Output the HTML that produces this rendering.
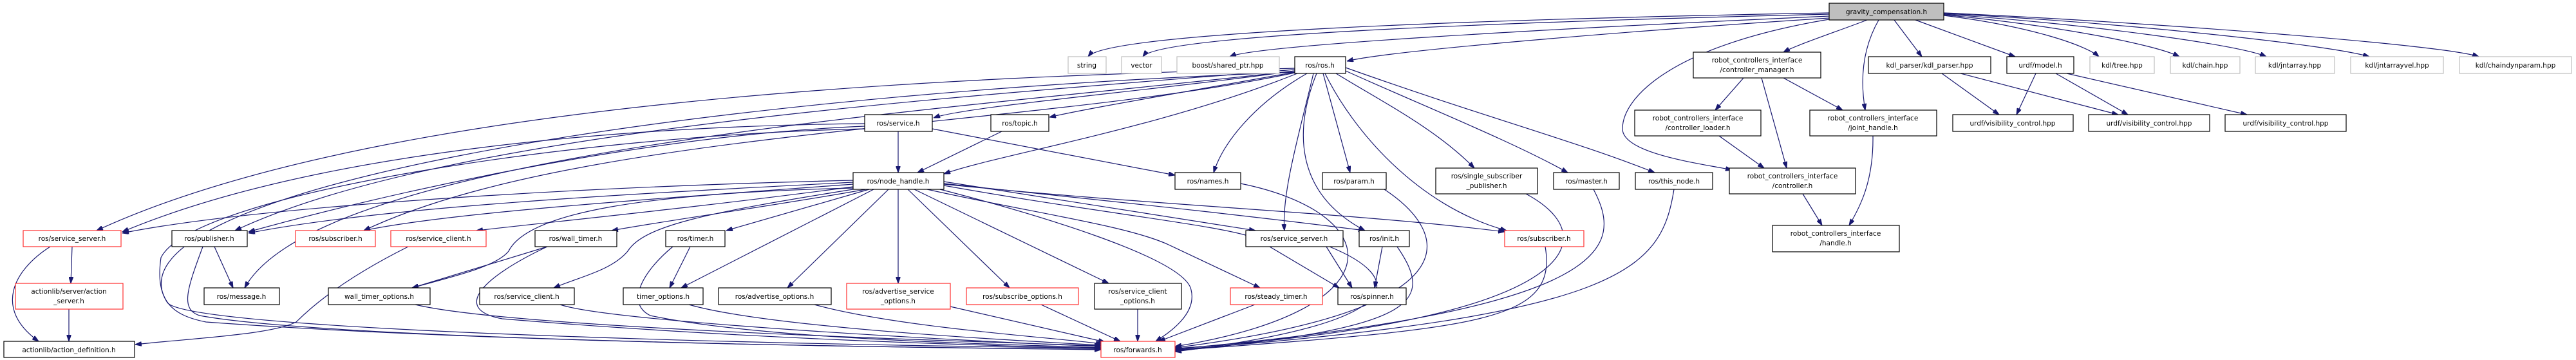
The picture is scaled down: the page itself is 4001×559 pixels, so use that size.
<!DOCTYPE html>
<html><head><meta charset="utf-8"><style>
html,body{margin:0;padding:0;background:#fff}
svg{display:block}
text{font-family:"DejaVu Sans","Liberation Sans",sans-serif;font-size:10.5px;fill:#000;text-anchor:middle}
.e{fill:none;stroke:#191970;stroke-width:1.2;marker-end:url(#a)}
.b{fill:#fff;stroke:#000;stroke-width:1.2}
.g{fill:#fff;stroke:#bfbfbf;stroke-width:1.2}
.r{fill:#fff;stroke:#ff3030;stroke-width:1.2}
</style></head><body>
<svg width="4001" height="559" viewBox="0 0 4001 559" xmlns="http://www.w3.org/2000/svg">
<defs><marker id="a" markerWidth="10" markerHeight="7" refX="10" refY="3.5" orient="auto" markerUnits="userSpaceOnUse"><path d="M0,0 L10,3.5 L0,7 z" fill="#191970" stroke="#191970"/></marker></defs>
<g>
<!-- gravity edges -->
<path class="e" d="M2841,20 C2300,30 1720,50 1690,88"/>
<path class="e" d="M2841,22 C2300,35 1800,55 1775,88"/>
<path class="e" d="M2841,25 C2400,45 1950,70 1910,88"/>
<path class="e" d="M2841,28 C2500,50 2150,80 2092,95"/>
<path class="e" d="M2900,31 C2850,50 2790,70 2770,81"/>
<path class="e" d="M2841,30 C2600,70 2520,150 2520,200 C2520,240 2650,255 2690,264"/>
<path class="e" d="M2918,31 C2890,80 2890,130 2897,171"/>
<path class="e" d="M2942,31 L2985,88"/>
<path class="e" d="M2975,31 L3130,88"/>
<path class="e" d="M3019,24 C3150,40 3240,70 3260,88"/>
<path class="e" d="M3019,23 C3200,40 3350,70 3385,88"/>
<path class="e" d="M3019,22 C3250,38 3480,70 3520,88"/>
<path class="e" d="M3019,21 C3300,35 3620,70 3680,88"/>
<path class="e" d="M3019,20 C3350,35 3800,70 3850,88"/>
<!-- rci -->
<path class="e" d="M2708,121 L2664,171"/>
<path class="e" d="M2736,121 L2775,261"/>
<path class="e" d="M2770,121 L2862,171"/>
<path class="e" d="M2670,211 L2740,261"/>
<path class="e" d="M2909,211 C2910,280 2890,320 2872,350"/>
<path class="e" d="M2800,301 L2830,350"/>
<path class="e" d="M3016,114 L3105,178"/>
<path class="e" d="M3045,114 L3290,178"/>
<path class="e" d="M3162,114 L3132,178"/>
<path class="e" d="M3193,114 L3305,178"/>
<path class="e" d="M3210,114 L3490,178"/>
<!-- ros.h -->
<path class="e" d="M2011,110 C1800,140 1500,165 1450,183"/>
<path class="e" d="M2011,112 C1800,150 1680,170 1630,182"/>
<path class="e" d="M2015,114 C1800,200 1550,240 1466,270"/>
<path class="e" d="M2030,114 C1950,160 1900,220 1885,268"/>
<path class="e" d="M2011,106 C1500,120 600,150 150,358"/>
<path class="e" d="M2011,108 C1500,150 700,200 365,358"/>
<path class="e" d="M2011,110 C1500,170 500,230 380,447"/>
<path class="e" d="M2011,113 C1600,200 900,200 565,358"/>
<path class="e" d="M2040,114 C2020,200 1990,300 1995,358"/>
<path class="e" d="M2045,114 C2010,200 2010,300 2120,358"/>
<path class="e" d="M2058,114 C2100,200 2200,320 2340,358"/>
<path class="e" d="M2055,114 L2097,268"/>
<path class="e" d="M2075,114 C2150,160 2230,200 2290,261"/>
<path class="e" d="M2090,110 C2200,160 2350,220 2435,268"/>
<path class="e" d="M2090,105 C2300,180 2450,220 2570,268"/>
<path class="e" d="M2011,112 C1000,150 150,300 260,470 C300,520 1500,540 1710,540"/>
<!-- service/topic -->
<path class="e" d="M1395,204 L1395,268"/>
<path class="e" d="M1448,200 L1825,272"/>
<path class="e" d="M1343,192 C1000,195 500,230 190,360"/>
<path class="e" d="M1343,196 C1000,210 600,300 386,360"/>
<path class="e" d="M1556,204 L1425,268"/>
<!-- node_handle -->
<path class="e" d="M1325,280 C900,290 400,320 190,362"/>
<path class="e" d="M1325,283 C1000,300 600,320 386,362"/>
<path class="e" d="M1325,286 C1000,310 700,330 565,358"/>
<path class="e" d="M1325,290 C1100,320 900,340 740,358"/>
<path class="e" d="M1345,294 C1200,320 1050,340 950,358"/>
<path class="e" d="M1325,292 C1000,300 820,330 790,390 C770,415 700,430 640,447"/>
<path class="e" d="M1350,294 L1128,358"/>
<path class="e" d="M1357,294 L1058,447"/>
<path class="e" d="M1325,294 C1100,330 1000,350 975,390 C950,420 900,430 860,447"/>
<path class="e" d="M1380,294 L1223,447"/>
<path class="e" d="M1395,294 L1395,440"/>
<path class="e" d="M1410,294 L1568,447"/>
<path class="e" d="M1420,294 L1722,440"/>
<path class="e" d="M1440,294 C1600,330 1750,350 1815,380 L1957,447"/>
<path class="e" d="M1460,294 C1600,330 1840,400 1850,450 C1860,490 1810,520 1795,530"/>
<path class="e" d="M1466,282 L1950,358"/>
<path class="e" d="M1466,285 C1700,310 1900,330 2120,358"/>
<path class="e" d="M1466,286 C1800,320 2100,330 2337,360"/>
<path class="e" d="M1466,288 C1700,330 1900,350 1950,370 L2080,447"/>
<!-- to forwards -->
<path class="e" d="M1927,285 C2150,330 2180,480 1825,538"/>
<path class="e" d="M2150,294 C2250,360 2300,480 1825,540"/>
<path class="e" d="M2370,301 C2500,370 2450,500 1825,541"/>
<path class="e" d="M2475,294 C2520,380 2520,480 1825,542"/>
<path class="e" d="M2600,294 C2580,420 2520,490 1825,543"/>
<path class="e" d="M2400,383 C2420,500 2300,510 1825,544"/>
<path class="e" d="M2147,383 L2135,447"/>
<path class="e" d="M2170,383 C2230,470 2200,510 1825,545"/>
<path class="e" d="M2060,383 L2100,447"/>
<path class="e" d="M2065,383 C2180,430 2200,500 1825,546"/>
<path class="e" d="M1072,383 L1040,447"/>
<path class="e" d="M1045,383 C1000,420 970,470 1010,490 C1200,530 1600,535 1710,540"/>
<path class="e" d="M850,383 L640,447"/>
<path class="e" d="M850,383 C750,430 700,480 780,495 C1200,530 1600,538 1710,541"/>
<path class="e" d="M870,473 C950,500 1500,530 1710,538"/>
<path class="e" d="M645,473 C800,510 1500,530 1710,537"/>
<path class="e" d="M1070,473 C1200,510 1600,530 1710,536"/>
<path class="e" d="M1265,473 C1400,510 1650,525 1712,534"/>
<path class="e" d="M1476,476 L1716,531"/>
<path class="e" d="M1617,473 L1740,530"/>
<path class="e" d="M1767,480 L1767,530"/>
<path class="e" d="M1949,473 L1800,530"/>
<path class="e" d="M333,383 L362,447"/>
<path class="e" d="M315,383 C290,450 280,480 310,490 C500,525 1300,540 1710,542"/>
<path class="e" d="M112,383 L110,440"/>
<path class="e" d="M78,383 C20,420 -10,480 60,530"/>
<path class="e" d="M107,480 L107,530"/>
<path class="e" d="M634,383 C560,420 500,460 460,500 C420,520 300,525 210,535"/>
<path class="e" d="M1343,200 C900,210 300,300 250,400 C240,470 270,490 320,500 C800,535 1500,540 1710,543"/>
</g>
<g>
<rect x="2841" y="5" width="178" height="26" fill="#bfbfbf" stroke="#000" stroke-width="1.2"/><text x="2930" y="22">gravity_compensation.h</text>
<rect class="g" x="1659" y="88" width="59" height="26"/><text x="1688" y="105">string</text>
<rect class="g" x="1742" y="88" width="62" height="26"/><text x="1773" y="105">vector</text>
<rect class="g" x="1828" y="88" width="159" height="26"/><text x="1907" y="105">boost/shared_ptr.hpp</text>
<rect class="b" x="2011" y="88" width="79" height="26"/><text x="2050" y="105">ros/ros.h</text>
<rect class="b" x="2630" y="81" width="198" height="40"/><text x="2729" y="97">robot_controllers_interface</text><text x="2729" y="112">/controller_manager.h</text>
<rect class="b" x="2902" y="88" width="190" height="26"/><text x="2997" y="105">kdl_parser/kdl_parser.hpp</text>
<rect class="b" x="3117" y="88" width="104" height="26"/><text x="3169" y="105">urdf/model.h</text>
<rect class="g" x="3246" y="88" width="100" height="26"/><text x="3296" y="105">kdl/tree.hpp</text>
<rect class="g" x="3371" y="88" width="108" height="26"/><text x="3425" y="105">kdl/chain.hpp</text>
<rect class="g" x="3503" y="88" width="123" height="26"/><text x="3564" y="105">kdl/jntarray.hpp</text>
<rect class="g" x="3651" y="88" width="144" height="26"/><text x="3723" y="105">kdl/jntarrayvel.hpp</text>
<rect class="g" x="3820" y="88" width="174" height="26"/><text x="3907" y="105">kdl/chaindynparam.hpp</text>
<rect class="b" x="1343" y="178" width="105" height="26"/><text x="1395" y="195">ros/service.h</text>
<rect class="b" x="1539" y="178" width="90" height="26"/><text x="1584" y="195">ros/topic.h</text>
<rect class="b" x="2539" y="171" width="196" height="40"/><text x="2637" y="187">robot_controllers_interface</text><text x="2637" y="202">/controller_loader.h</text>
<rect class="b" x="2811" y="171" width="197" height="40"/><text x="2909" y="187">robot_controllers_interface</text><text x="2909" y="202">/joint_handle.h</text>
<rect class="b" x="3033" y="178" width="187" height="26"/><text x="3126" y="195">urdf/visibility_control.hpp</text>
<rect class="b" x="3244" y="178" width="188" height="26"/><text x="3338" y="195">urdf/visibility_control.hpp</text>
<rect class="b" x="3456" y="178" width="188" height="26"/><text x="3550" y="195">urdf/visibility_control.hpp</text>
<rect class="b" x="1325" y="268" width="141" height="26"/><text x="1395" y="285">ros/node_handle.h</text>
<rect class="b" x="1825" y="268" width="102" height="26"/><text x="1876" y="285">ros/names.h</text>
<rect class="b" x="2054" y="268" width="99" height="26"/><text x="2103" y="285">ros/param.h</text>
<rect class="b" x="2230" y="261" width="158" height="40"/><text x="2309" y="277">ros/single_subscriber</text><text x="2309" y="292">_publisher.h</text>
<rect class="b" x="2413" y="268" width="102" height="26"/><text x="2464" y="285">ros/master.h</text>
<rect class="b" x="2540" y="268" width="120" height="26"/><text x="2600" y="285">ros/this_node.h</text>
<rect class="b" x="2686" y="261" width="196" height="40"/><text x="2784" y="277">robot_controllers_interface</text><text x="2784" y="292">/controller.h</text>
<rect class="r" x="36" y="358" width="152" height="25"/><text x="112" y="374">ros/service_server.h</text>
<rect class="b" x="267" y="358" width="117" height="25"/><text x="325" y="374">ros/publisher.h</text>
<rect class="r" x="459" y="358" width="124" height="25"/><text x="521" y="374">ros/subscriber.h</text>
<rect class="r" x="607" y="358" width="148" height="25"/><text x="681" y="374">ros/service_client.h</text>
<rect class="b" x="831" y="358" width="127" height="25"/><text x="894" y="374">ros/wall_timer.h</text>
<rect class="b" x="1034" y="358" width="92" height="25"/><text x="1080" y="374">ros/timer.h</text>
<rect class="b" x="1935" y="358" width="151" height="25"/><text x="2010" y="374">ros/service_server.h</text>
<rect class="b" x="2111" y="358" width="78" height="25"/><text x="2150" y="374">ros/init.h</text>
<rect class="r" x="2337" y="358" width="123" height="25"/><text x="2398" y="374">ros/subscriber.h</text>
<rect class="b" x="2753" y="350" width="197" height="41"/><text x="2851" y="366">robot_controllers_interface</text><text x="2851" y="381">/handle.h</text>
<rect class="r" x="24" y="440" width="167" height="40"/><text x="107" y="456">actionlib/server/action</text><text x="107" y="471">_server.h</text>
<rect class="b" x="317" y="447" width="117" height="26"/><text x="375" y="464">ros/message.h</text>
<rect class="b" x="510" y="447" width="158" height="26"/><text x="589" y="464">wall_timer_options.h</text>
<rect class="b" x="745" y="447" width="147" height="26"/><text x="818" y="464">ros/service_client.h</text>
<rect class="b" x="968" y="447" width="124" height="26"/><text x="1030" y="464">timer_options.h</text>
<rect class="b" x="1116" y="447" width="175" height="26"/><text x="1203" y="464">ros/advertise_options.h</text>
<rect class="r" x="1315" y="440" width="161" height="40"/><text x="1395" y="456">ros/advertise_service</text><text x="1395" y="471">_options.h</text>
<rect class="r" x="1501" y="447" width="174" height="26"/><text x="1588" y="464">ros/subscribe_options.h</text>
<rect class="b" x="1700" y="440" width="135" height="40"/><text x="1767" y="456">ros/service_client</text><text x="1767" y="471">_options.h</text>
<rect class="r" x="1911" y="447" width="143" height="26"/><text x="1982" y="464">ros/steady_timer.h</text>
<rect class="b" x="2078" y="447" width="106" height="26"/><text x="2131" y="464">ros/spinner.h</text>
<rect class="b" x="6" y="530" width="203" height="25"/><text x="107" y="547">actionlib/action_definition.h</text>
<rect class="r" x="1710" y="530" width="115" height="25"/><text x="1767" y="547">ros/forwards.h</text>
</g>
</svg>
</body></html>
